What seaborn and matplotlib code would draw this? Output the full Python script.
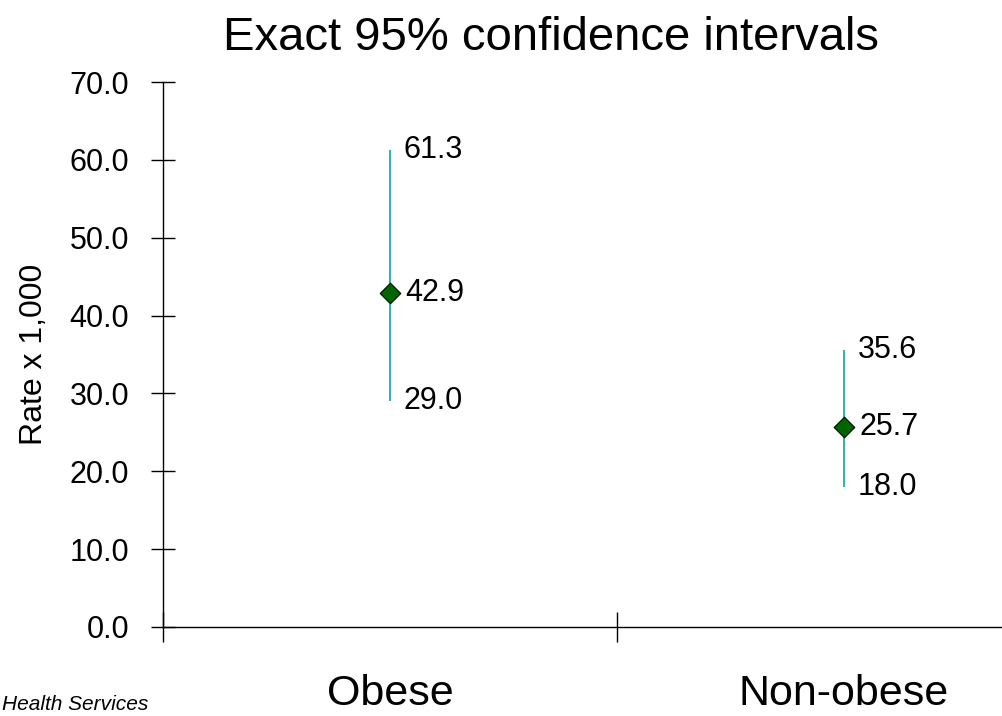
import numpy as np
import pandas as pd
import matplotlib
matplotlib.use("Agg")
import matplotlib.pyplot as plt
import seaborn as sns

groups = ['Obese', 'Non-obese']
rate = [42.9, 25.7]
lower = [29.0, 18.0]
upper = [61.3, 35.6]

sns.set_style("white")
plt.rcParams['font.family'] = ['Liberation Sans', 'DejaVu Sans']
plt.rcParams['text.color'] = 'black'
plt.rcParams['xtick.color'] = 'black'
plt.rcParams['ytick.color'] = 'black'
plt.rcParams['axes.labelcolor'] = 'black'

df = pd.DataFrame({'group': groups, 'rate': rate, 'lower': lower, 'upper': upper})
df['pos'] = np.arange(len(groups)) + 0.5

fig = plt.figure(figsize=(10.02, 7.16), dpi=100)
ax = fig.add_axes([163 / 1002, 89 / 716, 908 / 1002, 545 / 716])

# confidence interval lines
ax.vlines(df['pos'], df['lower'], df['upper'], color='#22A9AA', linewidth=1.3, zorder=2)
sns.scatterplot(data=df, x='pos', y='rate', marker='D', s=110, color='#006400',
                edgecolor='black', linewidth=0.8, zorder=3, ax=ax, legend=False)

for _, r in df.iterrows():
    for v, dx in ((r['upper'], 10), (r['rate'], 11), (r['lower'], 10)):
        ax.annotate('{:.1f}'.format(v), (r['pos'], v), xytext=(dx, 0),
                    textcoords='offset points', va='center', ha='left', fontsize=22)

ax.set_xlim(0, 2)
ax.set_ylim(0, 70)
ax.set_yticks(np.arange(0, 71, 10))
ax.set_yticklabels(['{:.1f}'.format(t) for t in np.arange(0, 71, 10)])
ax.set_xticks([0, 1, 2])
ax.set_xticklabels(['', '', ''])
ax.set_xticks(df['pos'], minor=True)
ax.set_xticklabels(df['group'], minor=True, fontsize=31)
ax.tick_params(axis='x', which='minor', length=0, pad=34)
ax.tick_params(axis='x', which='major', direction='inout', length=22, width=1, color='black')
ax.tick_params(axis='y', direction='inout', length=17, width=1, color='black', pad=16, labelsize=22)
ax.tick_params(left=True, bottom=True)

for s in ['top', 'right']:
    ax.spines[s].set_visible(False)
for s in ['left', 'bottom']:
    ax.spines[s].set_color('black')
    ax.spines[s].set_linewidth(1)

ax.set_xlabel('')
ax.set_ylabel('Rate x 1,000', fontsize=23, labelpad=15)

fig.text(551 / 1002, 1 - 50 / 716, 'Exact 95% confidence intervals', ha='center',
         va='baseline', fontsize=34)
fig.text(0.002, 0.008, 'Health Services', style='italic', fontsize=15,
         ha='left', va='baseline')

fig.savefig('out.png', dpi=100)
